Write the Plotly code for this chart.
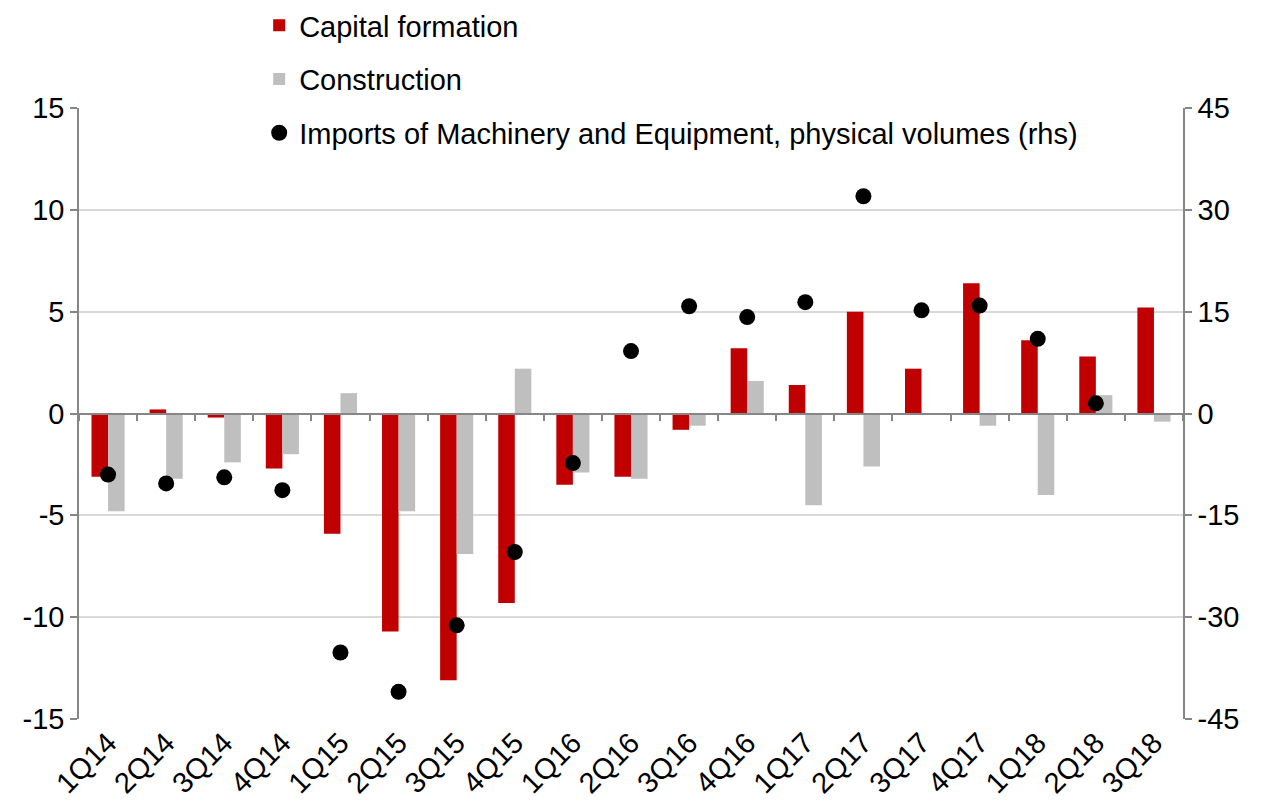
import plotly.graph_objects as go

categories = ["1Q14", "2Q14", "3Q14", "4Q14", "1Q15", "2Q15", "3Q15", "4Q15",
              "1Q16", "2Q16", "3Q16", "4Q16", "1Q17", "2Q17", "3Q17", "4Q17",
              "1Q18", "2Q18", "3Q18"]
capital_formation = [-3.1, 0.2, -0.2, -2.7, -5.9, -10.7, -13.1, -9.3,
                     -3.5, -3.1, -0.8, 3.2, 1.4, 5.0, 2.2, 6.4, 3.6, 2.8, 5.2]
construction = [-4.8, -3.2, -2.4, -2.0, 1.0, -4.8, -6.9, 2.2,
                -2.9, -3.2, -0.6, 1.6, -4.5, -2.6, None, -0.6, -4.0, 0.9, -0.4]
imports_me = [-9.0, -10.3, -9.4, -11.3, -35.2, -41.0, -31.2, -20.4,
              -7.3, 9.2, 15.8, 14.2, 16.4, 32.0, 15.2, 15.9, 11.0, 1.5, None]

left_ticks = [-15, -10, -5, 0, 5, 10, 15]
left_ticktext = ["-15", "-10", "-5", "0", "5", "10", "15"]
right_ticks = [-45, -30, -15, 0, 15, 30, 45]
right_ticktext = ["-45", "-30", "-15", "0", "15", "30", "45"]

FONT = "Liberation Sans, Arial, sans-serif"
AXIS_COLOR = "#868686"
GRID_COLOR = "#d9d9d9"
FS = 29

W, H = 1261, 806
ML, MR, MB = 79, 78, 87
PLOT_TOP = 108
container_h = H - MB
dom_top = (container_h - PLOT_TOP) / container_h

n = len(categories)
xs = list(range(n))
boundaries = [i + 0.5 for i in range(-1, n)]

fig = go.Figure()
fig.add_trace(go.Bar(x=xs, y=capital_formation, name="Capital formation",
                     marker=dict(color="#C00000", line=dict(width=0)),
                     legendgroup="a"))
fig.add_trace(go.Bar(x=xs, y=construction, name="Construction",
                     marker=dict(color="#BFBFBF", line=dict(width=0)),
                     legendgroup="b"))
fig.add_trace(go.Scatter(x=xs, y=imports_me, yaxis="y2", mode="markers",
                         name="Imports of Machinery and Equipment, physical volumes (rhs)",
                         marker=dict(color="black", size=16, symbol="circle"),
                         legendgroup="c"))
# helper (invisible) trace so the zero-line category axis renders
fig.add_trace(go.Scatter(x=[xs[0]], y=[0], xaxis="x2", mode="markers",
                         marker=dict(opacity=0), showlegend=False, hoverinfo="skip"))

fig.update_layout(
    width=W, height=H,
    margin=dict(l=ML, r=MR, t=0, b=MB, pad=0, autoexpand=False),
    paper_bgcolor="white", plot_bgcolor="white",
    font=dict(family=FONT, size=FS, color="black"),
    barmode="group", bargap=0.43, bargroupgap=0,
    showlegend=True,
    legend=dict(x=0.1632, xanchor="left", y=1.0, yanchor="top",
                orientation="v", traceorder="grouped", tracegroupgap=13,
                bgcolor="rgba(0,0,0,0)", font=dict(size=FS, family=FONT)),
    xaxis=dict(range=[-0.5, n - 0.5], tickvals=xs, ticktext=categories,
               tickangle=-45, showgrid=False, showline=False, zeroline=False,
               ticks="", tickfont=dict(size=FS), automargin=False),
    xaxis2=dict(overlaying="x", anchor="free", position=0.5 * dom_top,
                range=[-0.5, n - 0.5], tickvals=boundaries,
                showticklabels=False, ticks="outside", ticklen=7,
                tickcolor=AXIS_COLOR, tickwidth=1.5,
                showline=True, linecolor=AXIS_COLOR, linewidth=1.5,
                showgrid=False, zeroline=False, automargin=False),
    yaxis=dict(domain=[0, dom_top], range=[-15, 15], tickvals=left_ticks,
               ticktext=left_ticktext,
               showgrid=True, gridcolor=GRID_COLOR, gridwidth=1.5,
               zeroline=False, showline=True, linecolor=AXIS_COLOR, linewidth=1.5,
               ticks="outside", ticklen=7, tickcolor=AXIS_COLOR, tickwidth=1.5,
               tickfont=dict(size=FS), automargin=False),
    yaxis2=dict(range=[-45, 45], tickvals=right_ticks, ticktext=right_ticktext,
                overlaying="y", side="right", showgrid=False, zeroline=False,
                showline=True, linecolor=AXIS_COLOR, linewidth=1.5,
                ticks="outside", ticklen=7, tickcolor=AXIS_COLOR, tickwidth=1.5,
                tickfont=dict(size=FS), automargin=False),
)

fig.write_html("out.html", config={"displayModeBar": False},
               post_script="document.body.style.margin='0';")
